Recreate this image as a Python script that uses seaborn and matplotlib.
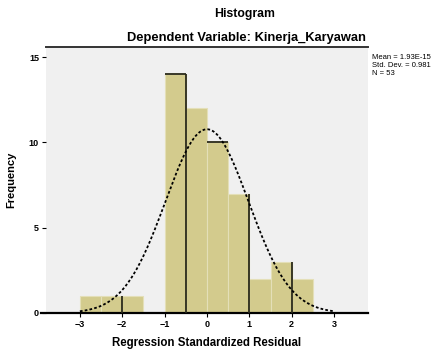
import numpy as np
import matplotlib
matplotlib.use("Agg")
import matplotlib.pyplot as plt
import seaborn as sns

# ---- data ----
bin_edges = [-3.0, -2.5, -2.0, -1.5, -1.0, -0.5, 0.0, 0.5, 1.0, 1.5, 2.0, 2.5]
counts = [1, 1, 1, 0, 14, 12, 10, 7, 2, 3, 2]
x_ticks = [-3, -2, -1, 0, 1, 2, 3]
y_ticks = [0, 5, 10, 15]
mean_val = 0.0
std_val = 0.981
n_val = 53
dark_edges = [2, 5, 8, 10]      # indices of bin edges drawn with dark outline
dark_tops = [4, 6]              # indices of bars with dark top outline

sns.set_theme(style="white")
plt.rcParams['font.family'] = ['Liberation Sans', 'DejaVu Sans']
plt.rcParams['text.color'] = 'black'
plt.rcParams['axes.labelcolor'] = 'black'

fig = plt.figure(figsize=(4.35, 3.49), dpi=100)
ax = fig.add_axes([0.1057, 0.1032, 0.846 - 0.1057, 0.8653 - 0.1032])
ax.set_facecolor("#F0F0F0")

centers = [(bin_edges[i] + bin_edges[i + 1]) / 2 for i in range(len(counts))]
sns.histplot(x=centers, weights=counts, bins=bin_edges, ax=ax,
             color="#D3CB8D", alpha=1.0, edgecolor="#E4DFB8", linewidth=0.8)

# dark bar outlines as in the reference
for e in dark_edges:
    left = counts[e - 1] if e - 1 >= 0 else 0
    right = counts[e] if e < len(counts) else 0
    ax.vlines(bin_edges[e], 0, max(left, right), color="#2a2a1a", linewidth=1.3, zorder=3)
for b in dark_tops:
    ax.hlines(counts[b], bin_edges[b], bin_edges[b + 1], color="#2a2a1a", linewidth=1.3, zorder=3)

# normal curve
bw = bin_edges[1] - bin_edges[0]
xs = np.linspace(-3.0, 3.0, 300)
ys = n_val * bw * np.exp(-0.5 * ((xs - mean_val) / std_val) ** 2) / (std_val * np.sqrt(2 * np.pi))
ax.plot(xs, ys, color="black", linewidth=1.3, linestyle=(0, (1.5, 1.2)), zorder=4)

ax.set_xlim(-3.8, 3.8)
ax.set_ylim(0, 15.6)
ax.set_xticks(x_ticks)
ax.set_yticks(y_ticks)
ax.tick_params(axis="both", labelsize=6.5, length=3, width=0.8, direction="out",
               colors="black", pad=2, bottom=True, left=True)
for lab in ax.get_xticklabels() + ax.get_yticklabels():
    lab.set_fontweight("bold")

for s in ["left", "right"]:
    ax.spines[s].set_visible(False)
ax.spines["top"].set_color("#333333")
ax.spines["top"].set_linewidth(1.4)
ax.spines["bottom"].set_color("black")
ax.spines["bottom"].set_linewidth(1.6)
ax.spines["bottom"].set_bounds(-3.92, 3.8)

ax.set_xlabel("Regression Standardized Residual", fontsize=8.3, fontweight="bold", labelpad=6)
ax.set_ylabel("Frequency", fontsize=8, fontweight="bold", labelpad=9)

fig.text(245 / 435, 1 - 14 / 349, "Histogram", ha="center", va="center",
         fontsize=8.8, fontweight="bold")
fig.text(246 / 435, 1 - 38 / 349, "Dependent Variable: Kinerja_Karyawan", ha="center",
         va="center", fontsize=9.3, fontweight="bold")
fig.text(372 / 435, 1 - 54 / 349,
         f"Mean = 1.93E-15\nStd. Dev. = {std_val}\nN = {n_val}",
         ha="left", va="top", fontsize=5.5, linespacing=1.2)

fig.savefig("out.png", dpi=100, facecolor="white")
